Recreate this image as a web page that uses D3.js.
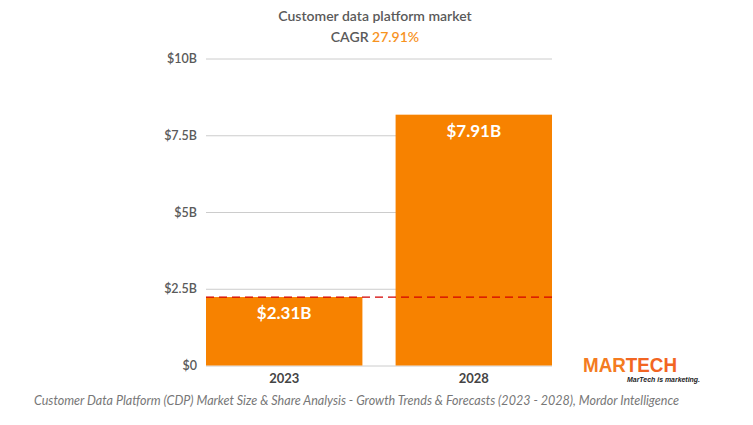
<!DOCTYPE html>
<html><head><meta charset="utf-8">
<script src="https://cdn.jsdelivr.net/npm/d3@7"></script>
<style>body{margin:0;background:#fff;}svg{display:block;font-family:Lato,sans-serif;}</style>
</head><body>
<svg id="c" width="753" height="425"></svg>
<script>
const categories = ["2023", "2028"];
const values = [2.23, 8.17];           // bar heights as drawn (billions)
const valueLabels = ["$2.31B", "$7.91B"];
const yTicks = [0, 2.5, 5, 7.5, 10];
const yTickLabels = ["$0", "$2.5B", "$5B", "$7.5B", "$10B"];
const title = "Customer data platform market";
const cagrLabel = "CAGR ";
const cagrValue = "27.91%";
const caption = "Customer Data Platform (CDP) Market Size & Share Analysis - Growth Trends & Forecasts (2023 - 2028), Mordor Intelligence";

const svg = d3.select("#c");
const orange = "#f78200";
const x = d3.scaleBand().domain(categories).range([206, 552]).paddingInner(0.175).paddingOuter(0);
const y = d3.scaleLinear().domain([0, 10]).range([365.5, 58.5]);

// title
svg.append("text").attr("x", 375).attr("y", 21).attr("text-anchor", "middle")
  .attr("font-size", 14).attr("font-weight", 600).attr("fill", "#5a5a5a").text(title);
const t2 = svg.append("text").attr("x", 375).attr("y", 42).attr("text-anchor", "middle")
  .attr("font-size", 14).attr("font-weight", 600).attr("fill", "#5a5a5a");
t2.append("tspan").text(cagrLabel);
t2.append("tspan").attr("fill", "#f7931e").text(cagrValue);

// grid + y ticks
const yAxis = d3.axisLeft(y).tickValues(yTicks).tickFormat((d, i) => yTickLabels[i])
  .tickSize(-(552 - 206)).tickPadding(9);
const g = svg.append("g").attr("transform", "translate(206,0)").call(yAxis);
g.select(".domain").remove();
g.selectAll(".tick line").attr("stroke", "#cccccc").attr("stroke-width", 1);
g.selectAll(".tick text").attr("font-size", 12.5).attr("font-weight", 600)
  .attr("fill", "#5a5a5a").attr("font-family", "Lato,sans-serif");

// bars
svg.selectAll("rect.bar").data(values).join("rect").attr("class", "bar")
  .attr("x", (d, i) => x(categories[i])).attr("width", x.bandwidth())
  .attr("y", d => y(d)).attr("height", d => y(0) - y(d)).attr("fill", orange);

// value labels
svg.selectAll("text.vl").data(values).join("text").attr("class", "vl")
  .attr("x", (d, i) => x(categories[i]) + x.bandwidth() / 2)
  .attr("y", d => y(d) + 22).attr("text-anchor", "middle")
  .attr("font-size", 17).attr("font-weight", 700).attr("fill", "#fff")
  .text((d, i) => valueLabels[i]);

// dashed reference line at first bar
svg.append("line").attr("x1", 206).attr("x2", 552)
  .attr("y1", y(values[0])).attr("y2", y(values[0]))
  .attr("stroke", "#d40000").attr("stroke-width", 1.3).attr("stroke-dasharray", "8,5");

// x axis labels
const xAxis = d3.axisBottom(x).tickSize(0).tickPadding(8);
const xg = svg.append("g").attr("transform", `translate(0,${y(0)})`).call(xAxis);
xg.select(".domain").remove();
xg.selectAll(".tick text").attr("font-size", 13).attr("font-weight", 700)
  .attr("fill", "#444").attr("font-family", "Lato,sans-serif");

// caption
svg.append("text").attr("x", 34).attr("y", 405).attr("font-size", 12.55)
  .attr("font-style", "italic").attr("font-weight", 400).attr("fill", "#777").text(caption);

// logo
const lg = svg.append("text").attr("x", 583).attr("y", 372).attr("font-size", 20)
  .attr("font-weight", 900).attr("fill", "#f47b20")
  .attr("textLength", 94).attr("lengthAdjust", "spacingAndGlyphs")
  .attr("font-family", "'Liberation Sans',Arial,sans-serif");
lg.append("tspan").text("MAR");
lg.append("tspan").attr("fill", "#f26522").text("TECH");
svg.append("text").attr("x", 627).attr("y", 382).attr("font-size", 7)
  .attr("font-style", "italic").attr("font-weight", 700).attr("fill", "#222")
  .attr("textLength", 73).attr("lengthAdjust", "spacingAndGlyphs")
  .attr("font-family", "'Liberation Sans',Arial,sans-serif").text("MarTech is marketing.");
</script>
</body></html>
